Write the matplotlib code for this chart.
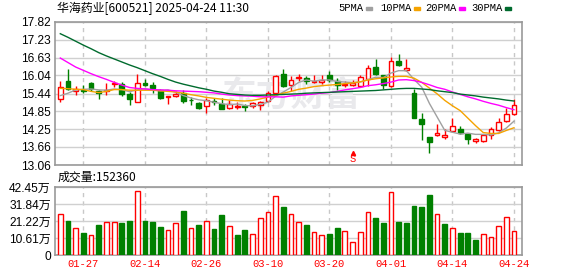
import numpy as np
import matplotlib.pyplot as plt
from matplotlib.patches import Rectangle

plt.rcParams['font.family'] = ['Liberation Sans', 'Noto Sans CJK SC']

# ---- data ----
title = "华海药业[600521] 2025-04-24 11:30"
last_volume = 152360

opens = [15.25, 15.85, 15.51, 15.57, 15.79, 15.51, 15.52, 15.74, 15.74, 15.42,
         15.15, 15.79, 15.73, 15.57, 15.31, 15.37, 15.47, 15.23, 15.12, 15.02,
         15.18, 15.08, 14.97, 15.00, 15.02, 15.03, 15.05, 15.19, 15.47, 16.10,
         15.71, 15.94, 15.95, 15.83, 15.82, 16.04, 15.85, 15.72, 15.71, 15.68,
         15.91, 16.32, 16.04, 15.69, 16.51, 16.22, 15.47, 14.60, 13.98, 14.05,
         13.98, 14.19, 14.27, 14.09, 13.87, 13.87, 14.07, 14.21, 14.51, 14.75]
closes = [15.64, 15.60, 15.59, 15.53, 15.60, 15.46, 15.57, 15.79, 15.43, 15.25,
          15.78, 15.73, 15.61, 15.30, 15.36, 15.41, 15.19, 15.21, 14.96, 15.23,
          15.16, 14.93, 15.08, 15.03, 15.00, 15.12, 15.16, 15.46, 16.03, 15.69,
          15.88, 15.99, 15.84, 15.87, 15.88, 15.88, 15.71, 15.75, 15.79, 15.98,
          16.29, 16.10, 15.71, 16.51, 16.40, 16.29, 14.63, 14.43, 13.81, 14.13,
          14.05, 14.35, 14.13, 13.94, 13.91, 14.05, 14.25, 14.49, 14.77, 15.05]
highs = [15.84, 16.24, 15.69, 15.73, 15.82, 15.54, 15.79, 15.84, 15.82, 15.49,
         16.08, 15.93, 15.82, 15.60, 15.36, 15.53, 15.54, 15.32, 15.16, 15.29,
         15.29, 15.29, 15.22, 15.16, 15.09, 15.16, 15.18, 15.51, 16.05, 16.27,
         16.01, 16.08, 16.02, 16.04, 16.07, 16.18, 15.94, 15.87, 15.90, 16.04,
         16.40, 16.60, 16.07, 16.66, 16.75, 16.58, 15.60, 14.80, 13.98, 14.43,
         14.25, 14.62, 14.36, 14.09, 13.96, 14.07, 14.32, 14.62, 14.96, 15.27]
lows = [15.16, 15.54, 15.38, 15.47, 15.51, 15.27, 15.38, 15.66, 15.36, 15.07,
        15.15, 15.69, 15.47, 15.27, 15.09, 15.31, 15.13, 15.07, 14.93, 14.79,
        15.05, 14.91, 14.93, 14.93, 14.85, 14.97, 14.90, 15.16, 15.43, 15.66,
        15.51, 15.84, 15.77, 15.79, 15.77, 15.82, 15.57, 15.66, 15.68, 15.66,
        15.69, 16.04, 15.60, 15.66, 16.34, 16.18, 14.63, 13.90, 13.47, 14.02,
        13.94, 14.16, 14.09, 13.77, 13.78, 13.82, 13.94, 14.18, 14.49, 14.71]

ma5 = [15.37, 15.45, 15.56, 15.58, 15.59, 15.56, 15.55, 15.59, 15.57, 15.50,
       15.56, 15.60, 15.56, 15.53, 15.56, 15.48, 15.37, 15.29, 15.23, 15.20,
       15.15, 15.10, 15.07, 15.09, 15.04, 15.03, 15.08, 15.15, 15.35, 15.49,
       15.64, 15.81, 15.89, 15.85, 15.89, 15.89, 15.84, 15.82, 15.80, 15.82,
       15.90, 15.98, 15.97, 16.12, 16.20, 16.20, 15.91, 15.65, 15.11, 14.66,
       14.21, 14.15, 14.09, 14.12, 14.08, 14.08, 14.06, 14.13, 14.29, 14.52]
ma10 = [15.61, 15.60, 15.58, 15.57, 15.51, 15.47, 15.51, 15.57, 15.57, 15.55,
        15.55, 15.55, 15.55, 15.53, 15.51, 15.49, 15.45, 15.40, 15.36, 15.31,
        15.28, 15.25, 15.22, 15.20, 15.19, 15.21, 15.26, 15.32, 15.39, 15.45,
        15.51, 15.58, 15.62, 15.67, 15.70, 15.72, 15.74, 15.77, 15.79, 15.83,
        15.89, 15.93, 15.96, 15.99, 16.01, 16.01, 15.95, 15.81, 15.62, 15.43,
        15.21, 15.03, 14.87, 14.62, 14.37, 14.14, 14.11, 14.11, 14.21, 14.30]
ma20 = [16.62, 16.47, 16.32, 16.21, 16.10, 16.00, 15.91, 15.81, 15.72, 15.64,
        15.61, 15.59, 15.57, 15.56, 15.55, 15.53, 15.52, 15.51, 15.50, 15.48,
        15.46, 15.42, 15.39, 15.37, 15.36, 15.35, 15.33, 15.33, 15.33, 15.32,
        15.36, 15.38, 15.40, 15.42, 15.45, 15.47, 15.51, 15.56, 15.60, 15.64,
        15.70, 15.73, 15.77, 15.82, 15.89, 15.90, 15.87, 15.81, 15.73, 15.64,
        15.58, 15.49, 15.41, 15.33, 15.26, 15.18, 15.11, 15.05, 14.97, 14.90]
ma30 = [17.43, 17.31, 17.18, 17.05, 16.93, 16.80, 16.69, 16.59, 16.49, 16.39,
        16.30, 16.20, 16.10, 16.01, 15.91, 15.82, 15.75, 15.69, 15.63, 15.58,
        15.52, 15.48, 15.43, 15.41, 15.39, 15.38, 15.38, 15.39, 15.40, 15.41,
        15.42, 15.43, 15.45, 15.46, 15.47, 15.48, 15.49, 15.50, 15.51, 15.52,
        15.53, 15.54, 15.56, 15.58, 15.60, 15.61, 15.61, 15.59, 15.57, 15.53,
        15.50, 15.47, 15.42, 15.39, 15.36, 15.32, 15.29, 15.26, 15.22, 15.19]

# volume in 万 (10k shares); r = up day, g = down day
volumes = [25.3, 21.1, 16.6, 13.7, 12.2, 18.6, 20.9, 20.3, 19.9, 21.1,
           39.8, 21.1, 20.5, 17.4, 15.3, 19.7, 27.3, 16.6, 18.6, 21.5,
           16.2, 24.8, 18.4, 12.4, 15.5, 12.8, 23.4, 27.1, 37.1, 29.8,
           25.3, 20.9, 18.6, 14.1, 12.2, 13.0, 16.8, 14.7, 7.9, 14.1,
           27.1, 23.0, 19.9, 39.5, 20.5, 19.9, 30.4, 29.8, 37.3, 25.9,
           19.3, 16.6, 13.7, 13.7, 9.3, 12.8, 11.0, 18.4, 24.0, 15.24]
vol_dir = "rgrgrgrrgg" "rgggrrgrgr" "ggrggrrrrg" "rrgrrggrrr" "rggrgggggr" "grgggrrrrr"

price_ticks = [13.06, 13.66, 14.25, 14.85, 15.44, 16.04, 16.63, 17.23, 17.82]
price_labels = ["13.06", "13.66", "14.25", "14.85", "15.44", "16.04", "16.63", "17.23", "17.82"]
vol_ticks = [0, 10.61, 21.22, 31.84, 42.45]
vol_labels = ["0", "10.61万", "21.22万", "31.84万", "42.45万"]
date_pos = [3, 11, 19, 27, 35, 43, 51, 59]
date_labels = ["01-27", "02-14", "02-26", "03-10", "03-20", "04-01", "04-14", "04-24"]
signal_idx = 38

ma_names = ["5PMA", "10PMA", "20PMA", "30PMA"]
ma_colors = ["#a0a0a0", "#f5a300", "#ff00ff", "#006b2e"]

RED = "#ff0000"
GREEN = "#008000"
W = 578
H = 276

fig = plt.figure(figsize=(W / 100, H / 100), dpi=100)
ax = fig.add_axes([55 / W, 1 - 165 / H, 467 / W, 143 / H])
axv = fig.add_axes([55 / W, 1 - 255 / H, 467 / W, 68 / H])

for a in (ax, axv):
    a.set_xlim(-0.69, 60.04)
    a.set_xticks(date_pos)
    a.grid(True, axis='y', color='#d0d0d0', lw=1, ls='-')
    a.grid(True, axis='x', color='#c8c8c8', lw=1, ls=(0, (3, 3)))
    a.set_axisbelow(True)
    for s in a.spines.values():
        s.set_color('#999999')
        s.set_linewidth(1.2)
    a.tick_params(length=0, labelsize=8.6, pad=3)

# candles
x = np.arange(len(opens))
for i in x:
    o, c = opens[i], closes[i]
    up = c >= o
    col = RED if up else GREEN
    ax.vlines(i, lows[i], highs[i], color=col, lw=1, zorder=2)
    ax.add_patch(Rectangle((i - 0.31, min(o, c)), 0.62, max(abs(c - o), 0.02),
                           facecolor='white' if up else GREEN, edgecolor=col,
                           lw=1, zorder=3))

for vals, col in zip([ma5, ma10, ma20, ma30], ma_colors):
    ax.plot(x, vals, color=col, lw=1, zorder=4)

ax.set_ylim(price_ticks[0], price_ticks[-1])
ax.set_yticks(price_ticks)
ax.set_yticklabels(price_labels)
ax.set_xticklabels([])

# watermark
ax.text(30, 15.38, "东方财富", fontsize=25, color='#e9e9ec', fontweight='bold',
        ha='center', va='center', zorder=1, family=['Noto Sans CJK SC'])

# signal marker
ax.plot(signal_idx, 0.085, marker='^', ms=3, color=RED, transform=ax.get_xaxis_transform(),
        clip_on=False, zorder=5)
ax.text(signal_idx, 0.005, "S", color=RED, fontsize=7.5, ha='center', va='bottom',
        transform=ax.get_xaxis_transform(), family=['Liberation Mono'])

# volume
for i in x:
    col = RED if vol_dir[i] == 'r' else GREEN
    axv.bar(i, volumes[i], width=0.62, facecolor='white' if vol_dir[i] == 'r' else GREEN,
            edgecolor=col, lw=1, zorder=3)
axv.set_ylim(0, vol_ticks[-1])
axv.set_yticks(vol_ticks)
axv.set_yticklabels(vol_labels)
axv.set_xticklabels(date_labels, color=RED, family=['Liberation Mono'], fontsize=7.6)

# header texts
fig.text(57 / W, 1 - 8 / H, title, fontsize=8.6, va='center', ha='left',
         family=['Noto Sans CJK SC'])
fig.text(58 / W, 1 - 177 / H, "成交量:%d" % last_volume, fontsize=8.6, va='center', ha='left',
         family=['Noto Sans CJK SC'])

lx = [338, 380, 425, 471]
for name, col, px in zip(ma_names, ma_colors, lx):
    fig.text(px / W, 1 - 8 / H, name, fontsize=7.6, va='center', ha='left',
             family=['Liberation Mono'])
    sx = px + 6 * len(name) + 4
    fig.patches.append(Rectangle((sx / W, 1 - 10 / H), 6 / W, 3 / H, color=col,
                                 transform=fig.transFigure, figure=fig))

fig.savefig("out.png", dpi=100, facecolor='white')
